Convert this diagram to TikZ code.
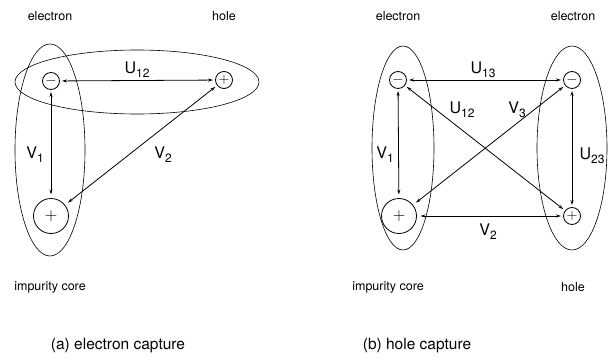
\documentclass[tikz,border=0pt]{standalone}
\usepackage{fontspec}
\setmainfont{TeX Gyre Heros}
\usetikzlibrary{arrows.meta, positioning}
\newcommand{\idx}[2]{#1\raisebox{-0.45ex}{\fontsize{12}{14}\selectfont#2}}

\begin{document}
\begin{tikzpicture}[
    x=1pt, y=-1pt,
    charge/.style={
        circle, draw, line width=0.8pt, inner sep=0pt,
        minimum size=17pt, outer sep=2.5pt,
        font=\fontsize{15}{15}\selectfont
    },
    core/.style={
        charge, minimum size=35pt, outer sep=4pt,
        font=\fontsize{17}{17}\selectfont
    },
    tag/.style={
        font=\fontsize{12.5}{14}\selectfont
    },
    coupling/.style={
        font=\fontsize{16}{18}\selectfont
    },
    caption/.style={
        font=\fontsize{15.5}{18}\selectfont
    },
    link/.style={
        {Stealth[length=5pt,width=3pt]}-{Stealth[length=5pt,width=3pt]}, line width=0.8pt
    },
    shell/.style={
        line width=0.6pt
    }
]
    \useasboundingbox (0,0) rectangle (608,364);

    % (a) electron capture
    \node[charge] (eA) at (51,81) {$-$};
    \node[charge] (hA) at (224,80) {$+$};
    \node[core] (cA) at (51,216) {$+$};

    \draw[shell] (50,150) ellipse [x radius=35, y radius=106];
    \draw[shell] (137,82) ellipse [x radius=122, y radius=32];

    \node[tag] (elA) at (50,16) {electron};
    \node[tag] (hoA) at (224,16) {hole};
    \node[tag] (icA) at (50,287) {impurity core};

    \draw[link] (eA) -- (hA);
    \draw[link] (eA) -- (cA);
    \draw[link] (cA) -- (hA);

    \node[coupling] at (137,70) {\idx{U}{12}};
    \node[coupling] at (35,155) {\idx{V}{1}};
    \node[coupling] at (163,155) {\idx{V}{2}};

    \node[caption] (capA) at (118,346) {(a) electron capture};

    % (b) hole capture
    \node[charge] (eL) at (398,80) {$-$};
    \node[core] (cL) at (399,216) {$+$};
    \node[charge] (eR) at (572,80) {$-$};
    \node[charge] (hR) at (572,216) {$+$};

    \draw[shell] (403,148) ellipse [x radius=31, y radius=102];
    \draw[shell] (572,148) ellipse [x radius=35, y radius=102];

    \node[tag] (elL) at (398,16) {electron};
    \node[tag] (elR) at (573,16) {electron};
    \node[tag] (icB) at (388,287) {impurity core};
    \node[tag] (hoB) at (573,287) {hole};

    \draw[link] (eL) -- (eR);
    \draw[link] (eL) -- (cL);
    \draw[link] (eR) -- (hR);
    \draw[link] (cL) -- (hR);
    \draw[link] (eL) -- (hR);
    \draw[link] (cL) -- (eR);

    \node[coupling] at (483,70) {\idx{U}{13}};
    \node[coupling] at (385,155) {\idx{V}{1}};
    \node[coupling] at (592,156) {\idx{U}{23}};
    \node[coupling] at (488,232) {\idx{V}{2}};
    \node[coupling] at (462,110) {\idx{U}{12}};
    \node[coupling] at (517,110) {\idx{V}{3}};

    \node[caption] (capB) at (417,346) {(b) hole capture};
\end{tikzpicture}
\end{document}
